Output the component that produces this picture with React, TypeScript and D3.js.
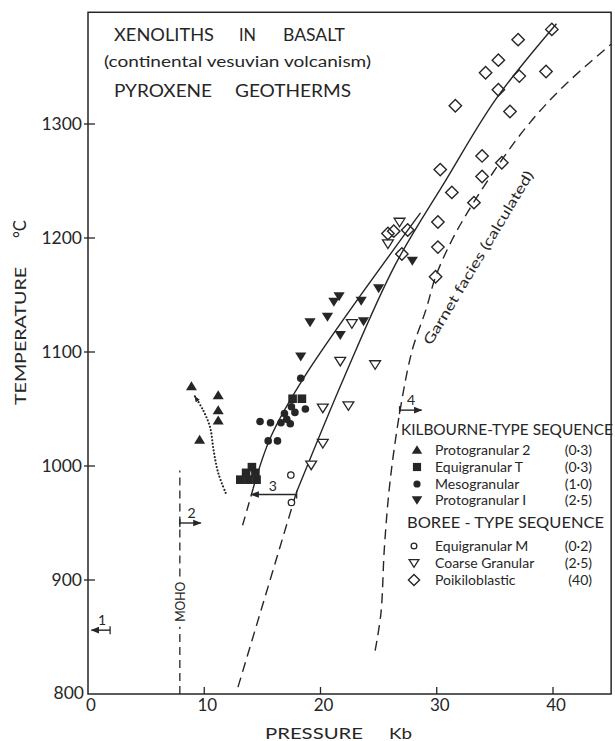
import React from 'react';
import * as d3 from 'd3';

// ---------- axis definitions ----------
const xTicks = [0, 10, 20, 30, 40];
const yTicks = [900, 1000, 1100, 1200, 1300];
const xDomainMax = 45;
const yDomainMin = 800;
const yDomainMax = 1398;

// ---------- Kilbourne-type sequence (filled symbols) ----------
const protogranular2 = [[8.9, 1070], [11.2, 1062], [11.2, 1049], [11.2, 1040], [9.6, 1023]];
const equigranularT = [[13.1, 988], [13.8, 988], [14.5, 988], [13.6, 994], [14.4, 994], [14.1, 999], [17.6, 1059], [18.4, 1059]];
const mesogranular = [
  [18.3, 1077], [17.5, 1052], [17.8, 1047], [18.7, 1050], [16.9, 1046], [17.1, 1041],
  [14.8, 1039], [15.7, 1038], [16.6, 1038], [17.4, 1037], [15.5, 1022], [16.3, 1022],
];
const protogranular1 = [
  [27.9, 1180], [25.0, 1156], [23.5, 1145], [21.6, 1149], [21.15, 1144], [20.6, 1131],
  [23.7, 1127], [19.1, 1126], [21.7, 1115], [18.3, 1096],
];

// ---------- Boree-type sequence (open symbols) ----------
const equigranularM = [[17.45, 992], [17.5, 968]];
const coarseGranular = [
  [26.8, 1214], [25.8, 1195], [22.7, 1125], [21.7, 1092], [24.7, 1089],
  [20.2, 1051], [22.4, 1053], [20.2, 1020], [19.2, 1001],
];
const poikiloblastic = [
  [39.9, 1383], [37.0, 1374], [35.3, 1356], [34.2, 1345], [37.1, 1342], [39.4, 1346],
  [35.3, 1330], [31.6, 1316], [36.3, 1311], [33.9, 1272], [35.6, 1266], [30.3, 1260],
  [33.9, 1254], [31.3, 1240], [33.2, 1231], [30.1, 1214], [27.5, 1207], [26.3, 1206],
  [25.8, 1204], [30.1, 1192], [27.0, 1186], [29.9, 1166],
];

// ---------- curves ----------
const geothermADashed = [[13.3, 948], [14.2, 980]];
const geothermA = [[14.2, 980], [15.7, 1025], [18.6, 1078], [28.6, 1222]];
const geothermBDashed = [[12.9, 806], [17.9, 976]];
const geothermB = [[17.9, 976], [22.0, 1077], [26.4, 1176], [30.8, 1251], [35.1, 1322], [40.3, 1388]];
const garnetCurve = [
  [24.7, 838], [25.2, 871], [25.5, 929], [26.0, 988], [26.9, 1052], [27.9, 1102],
  [29.1, 1138], [29.9, 1166], [31.3, 1198], [33.1, 1230], [35.7, 1270], [38.0, 1301],
  [40.9, 1333], [45.0, 1370],
];
const dottedCurve = [[9.2, 1061], [9.9, 1049], [10.5, 1034], [10.8, 1014], [11.2, 994], [11.9, 975]];
const mohoLower = [[7.9, 800], [7.9, 859]];
const mohoUpper = [[7.9, 903], [7.9, 996]];

// pressure markers
const pMarkers = [
  { p1: 0.3, p2: 1.9, t: 856, label: '1', lp: 1.2, lt: 864, arrow: 'left' },
  { p1: 7.9, p2: 9.7, t: 950, label: '2', lp: 8.9, lt: 958, arrow: 'right' },
  { p1: 14.05, p2: 17.95, t: 975, label: '3', lp: 15.9, lt: 982, arrow: 'left' },
  { p1: 26.8, p2: 28.7, t: 1049, label: '4', lp: 27.8, lt: 1057, arrow: 'right' },
];

const legendKil = [
  { name: 'Protogranular 2', val: '(0·3)', sym: 'triUp' },
  { name: 'Equigranular  T', val: '(0·3)', sym: 'square' },
  { name: 'Mesogranular', val: '(1·0)', sym: 'circle' },
  { name: 'Protogranular  I', val: '(2·5)', sym: 'triDown' },
];
const legendBor = [
  { name: 'Equigranular  M', val: '(0·2)', sym: 'openCircle' },
  { name: 'Coarse Granular', val: '(2·5)', sym: 'openTriDown' },
  { name: 'Poikiloblastic', val: '(40)', sym: 'diamond' },
];

const INK = '#262626';
const FONT = 'Lato, "DejaVu Sans", sans-serif';

function Sym({ type, cx, cy, s = 1 }: { type: string; cx: number; cy: number; s?: number }) {
  switch (type) {
    case 'triUp':
      return <path d={`M${cx},${cy - 5 * s}L${cx + 5.5 * s},${cy + 4 * s}L${cx - 5.5 * s},${cy + 4 * s}Z`} fill={INK} />;
    case 'triDown':
      return <path d={`M${cx - 5.6 * s},${cy - 4 * s}L${cx + 5.6 * s},${cy - 4 * s}L${cx},${cy + 5 * s}Z`} fill={INK} />;
    case 'square':
      return <rect x={cx - 4.3 * s} y={cy - 4.3 * s} width={8.6 * s} height={8.6 * s} fill={INK} />;
    case 'circle':
      return <circle cx={cx} cy={cy} r={3.8 * s} fill={INK} />;
    case 'openCircle':
      return <circle cx={cx} cy={cy} r={3.2 * s} fill="#fff" stroke={INK} strokeWidth={1.3} />;
    case 'openTriDown':
      return <path d={`M${cx - 5.4 * s},${cy - 3.8 * s}L${cx + 5.4 * s},${cy - 3.8 * s}L${cx},${cy + 4.8 * s}Z`} fill="#fff" stroke={INK} strokeWidth={1.3} />;
    case 'diamond':
      return <path d={`M${cx},${cy - 6.2 * s}L${cx + 6.2 * s},${cy}L${cx},${cy + 6.2 * s}L${cx - 6.2 * s},${cy}Z`} fill="none" stroke={INK} strokeWidth={1.4} />;
    default:
      return null;
  }
}

export default function App() {
  const x = d3.scaleLinear().domain([0, 40]).range([88, 553]);
  const y = d3.scaleLinear().domain([800, 1300]).range([694, 124]);
  const smooth = d3.line<number[]>().x(d => x(d[0])).y(d => y(d[1])).curve(d3.curveCatmullRom.alpha(0.5));
  const straight = d3.line<number[]>().x(d => x(d[0])).y(d => y(d[1]));

  const x0 = x(0), x1 = x(xDomainMax), y0 = y(yDomainMin), y1 = y(yDomainMax);

  const series: [number[][], string][] = [
    [protogranular2, 'triUp'],
    [equigranularT, 'square'],
    [mesogranular, 'circle'],
    [protogranular1, 'triDown'],
    [equigranularM, 'openCircle'],
    [coarseGranular, 'openTriDown'],
    [poikiloblastic, 'diamond'],
  ];

  const legendX = 417;
  const legendTextX = 435;
  const legendValX = 592;
  const kilY = [450, 467, 484, 500];
  const borY = [546, 563, 580];

  return (
    <svg width={615} height={741} style={{ position: 'absolute', left: 0, top: 0, background: '#fff' }} fontFamily={FONT}>
      <defs>
        <marker id="ah" viewBox="0 0 10 10" refX="9" refY="5" markerWidth="6" markerHeight="6" orient="auto-start-reverse">
          <path d="M0,1 L10,5 L0,9 Z" fill={INK} />
        </marker>
      </defs>
      <rect x={0} y={0} width={615} height={741} fill="#fff" />

      {/* frame */}
      <rect x={x0} y={y1} width={x1 - x0} height={y0 - y1} fill="none" stroke={INK} strokeWidth={1.5} />

      {/* y ticks */}
      {yTicks.map(t => (
        <g key={'yt' + t}>
          <line x1={x0 - 4} x2={x0 + 7} y1={y(t)} y2={y(t)} stroke={INK} strokeWidth={1.3} />
          <text x={x0 - 6} y={y(t) + 6} textAnchor="end" fontSize={17.5} fill={INK}>{t}</text>
        </g>
      ))}
      <text x={x0 - 4} y={y(800) + 5} textAnchor="end" fontSize={17.5} fill={INK}>800</text>

      {/* x ticks */}
      {xTicks.map(t => (
        <g key={'xt' + t}>
          {t > 0 && <line x1={x(t)} x2={x(t)} y1={y0} y2={y0 - 7} stroke={INK} strokeWidth={1.3} />}
          <text x={x(t) + 3} y={y0 + 17} textAnchor="middle" fontSize={17} fill={INK}>{t}</text>
        </g>
      ))}

      {/* axis titles */}
      <text x={265} y={739} fontSize={16} fill={INK} textLength={98} lengthAdjust="spacingAndGlyphs">PRESSURE</text>
      <text x={389} y={739} fontSize={16} fill={INK} textLength={23} lengthAdjust="spacingAndGlyphs">Kb</text>
      <text transform={`translate(26,${405}) rotate(-90)`} fontSize={16} fill={INK} textLength={138} lengthAdjust="spacingAndGlyphs">TEMPERATURE</text>
      <text transform={`translate(26,${238}) rotate(-90)`} fontSize={16.5} fill={INK}>°C</text>

      {/* title block */}
      <text x={114} y={41} fontSize={16.5} fill={INK} textLength={100} lengthAdjust="spacingAndGlyphs">XENOLITHS</text>
      <text x={239} y={41} fontSize={16.5} fill={INK} textLength={17} lengthAdjust="spacingAndGlyphs">IN</text>
      <text x={283} y={41} fontSize={16.5} fill={INK} textLength={62} lengthAdjust="spacingAndGlyphs">BASALT</text>
      <text x={104} y={67} fontSize={15.5} fill={INK} textLength={267} lengthAdjust="spacingAndGlyphs">(continental  vesuvian  volcanism)</text>
      <text x={114} y={97} fontSize={16.5} fill={INK} textLength={98} lengthAdjust="spacingAndGlyphs">PYROXENE</text>
      <text x={235} y={97} fontSize={16.5} fill={INK} textLength={116} lengthAdjust="spacingAndGlyphs">GEOTHERMS</text>

      {/* curves */}
      <path d={straight(mohoLower) || ''} fill="none" stroke={INK} strokeWidth={1.3} strokeDasharray="8 5" />
      <path d={straight(mohoUpper) || ''} fill="none" stroke={INK} strokeWidth={1.3} strokeDasharray="8 5" />
      <text transform={`translate(${x(7.9) + 5},${y(881)}) rotate(-90)`} textAnchor="middle" fontSize={13} fill={INK} textLength={40} lengthAdjust="spacingAndGlyphs">MOHO</text>

      <path d={straight(geothermADashed) || ''} fill="none" stroke={INK} strokeWidth={1.4} strokeDasharray="9 6" />
      <path d={smooth(geothermA) || ''} fill="none" stroke={INK} strokeWidth={1.4} />
      <path d={straight(geothermBDashed) || ''} fill="none" stroke={INK} strokeWidth={1.4} strokeDasharray="10 6" />
      <path d={smooth(geothermB) || ''} fill="none" stroke={INK} strokeWidth={1.4} />
      <path d={smooth(garnetCurve) || ''} fill="none" stroke={INK} strokeWidth={1.4} strokeDasharray="10 6" />
      <path d={smooth(dottedCurve) || ''} fill="none" stroke={INK} strokeWidth={2.2} strokeDasharray="0 3.4" strokeLinecap="round" />
      <path d={straight(dottedCurve.slice(0, 2)) || ''} fill="none" stroke="none" markerStart="url(#ah)" />

      <text transform={`translate(${431},${346}) rotate(-59)`} fontSize={14} fill={INK} textLength={200} lengthAdjust="spacingAndGlyphs">Garnet   facies  (calculated)</text>

      {/* pressure markers */}
      {pMarkers.map(m => {
        const ya = y(m.t);
        const xa = x(m.p1), xb = x(m.p2);
        return (
          <g key={'pm' + m.label}>
            <line x1={m.arrow === 'left' ? xb : xa} x2={m.arrow === 'left' ? xa : xb} y1={ya} y2={ya} stroke={INK} strokeWidth={1.4} markerEnd="url(#ah)" />
            <line x1={m.arrow === 'left' ? xb : xa} x2={m.arrow === 'left' ? xb : xa} y1={ya - 4} y2={ya + 4} stroke={INK} strokeWidth={1.3} />
            <text x={x(m.lp)} y={y(m.lt) + 4} textAnchor="middle" fontSize={14} fill={INK}>{m.label}</text>
          </g>
        );
      })}

      {/* data points */}
      {series.map(([data, type]) =>
        data.map((d, i) => <Sym key={type + i} type={type} cx={x(d[0])} cy={y(d[1])} />)
      )}

      {/* legend */}
      <text x={401} y={435} fontSize={14.5} fill={INK} textLength={212} lengthAdjust="spacingAndGlyphs">KILBOURNE-TYPE  SEQUENCE</text>
      {legendKil.map((l, i) => (
        <g key={'lk' + i}>
          <Sym type={l.sym} cx={legendX} cy={kilY[i]} s={0.95} />
          <text x={legendTextX} y={kilY[i] + 5} fontSize={14} fill={INK}>{l.name}</text>
          <text x={legendValX} y={kilY[i] + 5} fontSize={14} fill={INK} textAnchor="end">{l.val}</text>
        </g>
      ))}
      <text x={407} y={528} fontSize={14.5} fill={INK} textLength={197} lengthAdjust="spacingAndGlyphs">BOREE - TYPE   SEQUENCE</text>
      {legendBor.map((l, i) => (
        <g key={'lb' + i}>
          <Sym type={l.sym} cx={legendX - 3} cy={borY[i]} s={0.9} />
          <text x={legendTextX} y={borY[i] + 5} fontSize={14} fill={INK}>{l.name}</text>
          <text x={legendValX} y={borY[i] + 5} fontSize={14} fill={INK} textAnchor="end">{l.val}</text>
        </g>
      ))}
    </svg>
  );
}
